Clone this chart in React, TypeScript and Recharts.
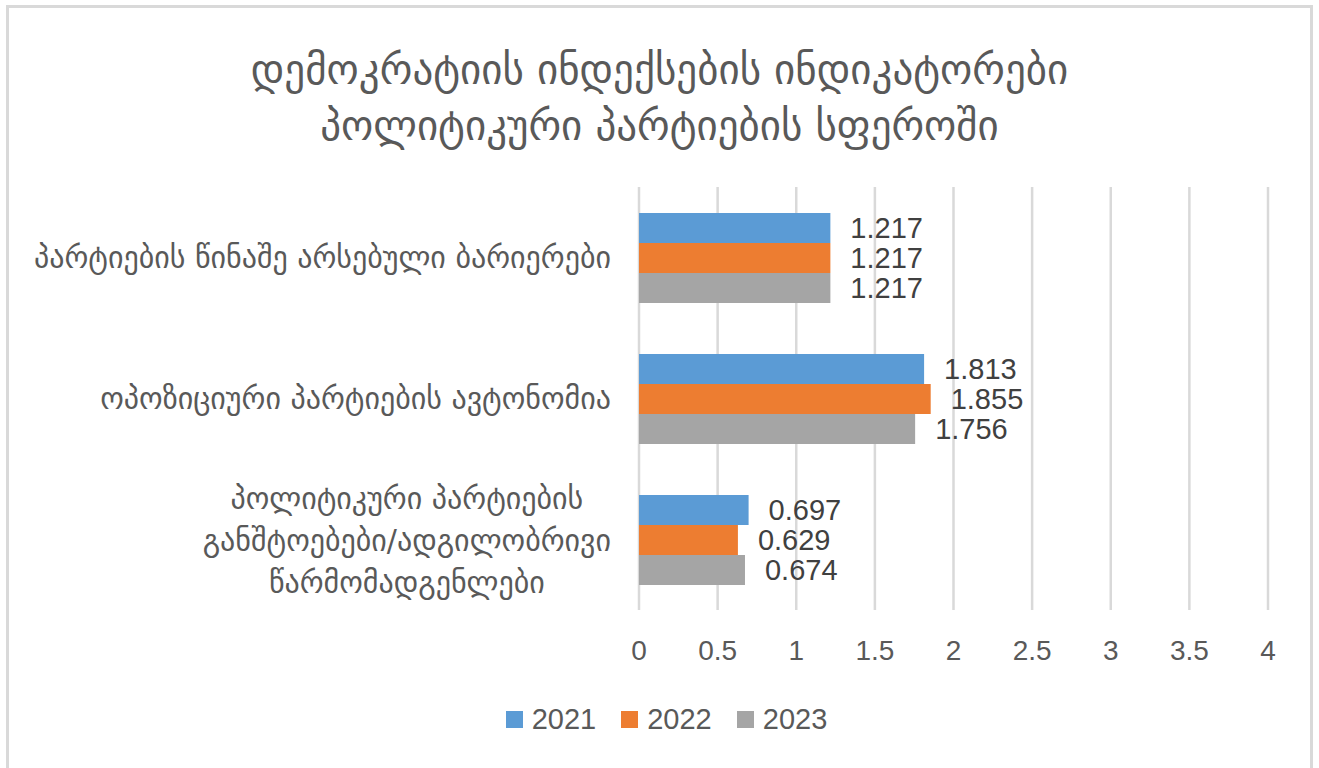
import React from "react";
import { BarChart, Bar, XAxis, YAxis, CartesianGrid, LabelList, Legend } from "recharts";

const categories = [
  "პარტიების წინაშე არსებული ბარიერები",
  "ოპოზიციური პარტიების ავტონომია",
  "პოლიტიკური პარტიების\nგანშტოებები/ადგილობრივი\nწარმომადგენლები",
];
const values2021 = [1.217, 1.813, 0.697];
const values2022 = [1.217, 1.855, 0.629];
const values2023 = [1.217, 1.756, 0.674];
const xTicks = [0, 0.5, 1, 1.5, 2, 2.5, 3, 3.5, 4];
const seriesNames = ["2021", "2022", "2023"];
const seriesColors = ["#5B9BD5", "#ED7D31", "#A5A5A5"];
const titleLines = [
  "დემოკრატიის ინდექსების ინდიკატორები",
  "პოლიტიკური პარტიების სფეროში",
];

const data = categories.map((c, i) => ({
  name: c,
  y2021: values2021[i],
  y2022: values2022[i],
  y2023: values2023[i],
}));

const GEO_FONT = "'DejaVu Sans', sans-serif";
const NUM_FONT = "'Liberation Sans', Arial, sans-serif";
const CAT_SIZE = 30;

function measure(text: string, font: string): number {
  try {
    const c = document.createElement("canvas");
    const ctx = c.getContext("2d");
    if (!ctx) return text.length * 17;
    ctx.font = font;
    return ctx.measureText(text).width;
  } catch (e) {
    return text.length * 17;
  }
}

const CategoryTick = (props: any) => {
  const { x, y, payload } = props;
  const lines: string[] = String(payload.value).split("\n");
  const right = x - 20;
  const lh = 42;
  if (lines.length === 1) {
    return (
      <text x={right} y={y} textAnchor="end" dominantBaseline="central" fill="#595959" fontSize={CAT_SIZE} fontFamily={GEO_FONT}>
        {lines[0]}
      </text>
    );
  }
  const maxW = Math.max(...lines.map((l) => measure(l, `${CAT_SIZE}px 'DejaVu Sans'`)));
  const cx = right - maxW / 2;
  const startY = y - ((lines.length - 1) * lh) / 2;
  return (
    <text textAnchor="middle" dominantBaseline="central" fill="#595959" fontSize={CAT_SIZE} fontFamily={GEO_FONT}>
      {lines.map((l, i) => (
        <tspan key={i} x={cx} y={startY + i * lh} dominantBaseline="central">
          {l}
        </tspan>
      ))}
    </text>
  );
};

const LegendContent = () => (
  <div style={{ display: "flex", justifyContent: "center", alignItems: "center", width: 1319, paddingLeft: 14, boxSizing: "border-box" }}>
    {seriesNames.map((n, i) => (
      <div key={n} style={{ display: "flex", alignItems: "center", marginRight: i < 2 ? 25 : 0 }}>
        <div style={{ width: 17, height: 17, background: seriesColors[i], marginRight: 9 }} />
        <span style={{ fontFamily: NUM_FONT, fontSize: 29, color: "#595959" }}>{n}</span>
      </div>
    ))}
  </div>
);

export default function App() {
  return (
    <div style={{ position: "absolute", left: 0, top: 0, width: 1319, height: 768, background: "#fff", overflow: "hidden" }}>
      <div
        style={{
          position: "absolute",
          left: 6,
          top: 5,
          width: 1307,
          height: 780,
          border: "3px solid #d9d9d9",
          boxSizing: "border-box",
        }}
      />
      <div
        style={{
          position: "absolute",
          left: 0,
          top: 42,
          width: 1319,
          textAlign: "center",
          fontFamily: GEO_FONT,
          fontSize: 41,
          lineHeight: "56px",
          color: "#595959",
        }}
      >
        {titleLines.map((t) => (
          <div key={t}>{t}</div>
        ))}
      </div>
      <div style={{ position: "absolute", left: 0, top: 0 }}>
        <BarChart
          width={1319}
          height={768}
          data={data}
          layout="vertical"
          margin={{ top: 187, right: 51, left: 0, bottom: 108 }}
          barCategoryGap="18.5%"
          barGap={0}
        >
          <CartesianGrid horizontal={false} vertical={true} stroke="#d9d9d9" strokeWidth={2.5} />
          <XAxis
            type="number"
            domain={[0, 4]}
            ticks={xTicks}
            axisLine={false}
            tickLine={false}
            tickMargin={24}
            height={50}
            tick={{ fill: "#595959", fontSize: 28, fontFamily: NUM_FONT }}
            interval={0}
          />
          <YAxis
            type="category"
            dataKey="name"
            width={639}
            axisLine={false}
            tickLine={false}
            tick={<CategoryTick />}
            interval={0}
          />
          <Legend
            verticalAlign="middle"
            align="center"
            layout="horizontal"
            content={<LegendContent />}
            wrapperStyle={{ top: 703, left: 0, width: 1319 }}
          />
          {["y2021", "y2022", "y2023"].map((k, i) => (
            <Bar key={k} dataKey={k} name={seriesNames[i]} fill={seriesColors[i]} isAnimationActive={false}>
              <LabelList
                dataKey={k}
                position="right"
                offset={20}
                fill="#404040"
                fontSize={29}
                fontFamily={NUM_FONT}
                formatter={(v: any) => Number(v).toFixed(3)}
              />
            </Bar>
          ))}
        </BarChart>
      </div>
    </div>
  );
}
